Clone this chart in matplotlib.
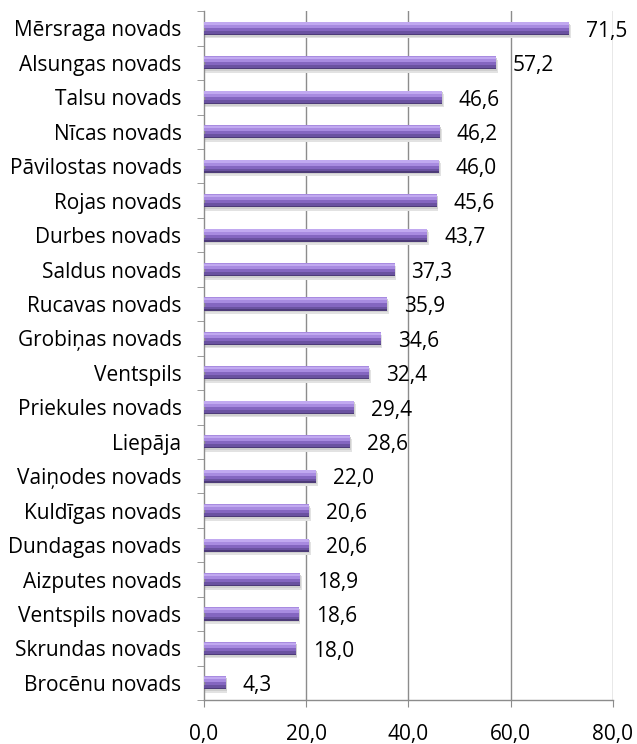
import numpy as np
import matplotlib.pyplot as plt
from matplotlib.ticker import FuncFormatter

# Dati (no augšas uz leju)
regions = ["Mērsraga novads", "Alsungas novads", "Talsu novads", "Nīcas novads",
           "Pāvilostas novads", "Rojas novads", "Durbes novads", "Saldus novads",
           "Rucavas novads", "Grobiņas novads", "Ventspils", "Priekules novads",
           "Liepāja", "Vaiņodes novads", "Kuldīgas novads", "Dundagas novads",
           "Aizputes novads", "Ventspils novads", "Skrundas novads", "Brocēnu novads"]
values = [71.5, 57.2, 46.6, 46.2, 46.0, 45.6, 43.7, 37.3, 35.9, 34.6,
          32.4, 29.4, 28.6, 22.0, 20.6, 20.6, 18.9, 18.6, 18.0, 4.3]
x_ticks = [0, 20, 40, 60, 80]

plt.rcParams['font.family'] = ['Open Sans', 'DejaVu Sans']

fig = plt.figure(figsize=(6.37, 7.44), dpi=100)
ax = fig.add_axes([0.320, 0.059, 0.642, 0.926])

n = len(regions)
y = np.arange(n)[::-1]
h = 0.38

# vertikālās režģa līnijas
for xv in x_ticks[1:]:
    ax.axvline(xv, color='#8c8c8c', linewidth=1.0, zorder=0)

# ēna
ax.barh(y - 0.10, values, height=h, left=0.3, color='#e2e2e2', zorder=1, linewidth=0)
ax.barh(y - 0.05, values, height=h, left=0.15, color='#cfcfcf', zorder=1, linewidth=0)
# stabiņi ar gaišu augšu un tumšu apakšu
ax.barh(y, values, height=h, color='#8466c0', zorder=2, linewidth=0)
ax.barh(y + h * 0.27, values, height=h * 0.46, color='#a88be0', zorder=3, linewidth=0)
ax.barh(y + h * 0.36, values, height=h * 0.18, color='#c1a9f0', zorder=3, linewidth=0)
ax.barh(y - h * 0.35, values, height=h * 0.30, color='#6a52a0', zorder=3, linewidth=0)
ax.barh(y - h * 0.45, values, height=h * 0.10, color='#4d3b78', zorder=3, linewidth=0)

for yi, v in zip(y, values):
    ax.text(v + 3.3, yi - 0.08, f"{v:.1f}".replace('.', ','), va='center', ha='left',
            fontsize=15, color='black', zorder=5)

ax.set_xlim(0, 80)
ax.set_ylim(-0.5, n - 0.5)
ax.set_xticks(x_ticks)
ax.xaxis.set_major_formatter(FuncFormatter(lambda v, p: f"{v:.1f}".replace('.', ',')))
ax.set_yticks(y)
ax.set_yticklabels(regions)
ax.set_yticks(np.arange(n + 1) - 0.5, minor=True)
ax.tick_params(axis='y', which='major', length=0, labelsize=15, pad=16)
ax.tick_params(axis='y', which='minor', length=5, color='#8c8c8c', direction='out')
ax.tick_params(axis='x', length=5, color='#8c8c8c', labelsize=15, pad=12)

for s in ['top', 'right']:
    ax.spines[s].set_visible(False)
for s in ['left', 'bottom']:
    ax.spines[s].set_color('#8c8c8c')
    ax.spines[s].set_linewidth(1.0)

fig.savefig("out.png", dpi=100)
